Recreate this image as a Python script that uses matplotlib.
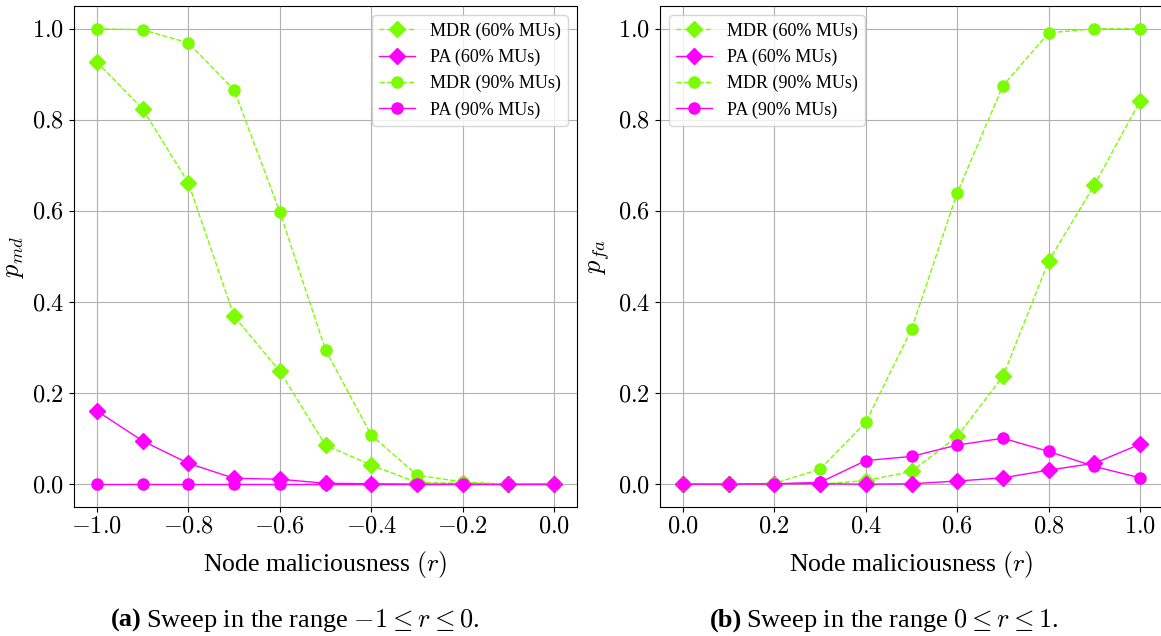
import matplotlib
matplotlib.use('Agg')
import matplotlib.pyplot as plt
from matplotlib.ticker import FuncFormatter

plt.rcParams['font.family'] = ['Liberation Serif', 'DejaVu Serif']
plt.rcParams['mathtext.fontset'] = 'cm'

# sweep (a): -1 <= r <= 0
r_neg = [-1.0, -0.9, -0.8, -0.7, -0.6, -0.5, -0.4, -0.3, -0.2, -0.1, 0.0]
mdr60_neg = [0.927, 0.824, 0.662, 0.369, 0.248, 0.086, 0.042, 0.004, 0.002, 0.0, 0.0]
pa60_neg = [0.161, 0.095, 0.046, 0.013, 0.011, 0.002, 0.001, 0.0, 0.0, 0.0, 0.0]
mdr90_neg = [1.0, 0.998, 0.969, 0.866, 0.598, 0.295, 0.108, 0.020, 0.005, 0.0, 0.0]
pa90_neg = [0.0, 0.0, 0.0, 0.0, 0.0, 0.0, 0.0, 0.0, 0.0, 0.0, 0.0]

# sweep (b): 0 <= r <= 1
r_pos = [0.0, 0.1, 0.2, 0.3, 0.4, 0.5, 0.6, 0.7, 0.8, 0.9, 1.0]
mdr60_pos = [0.0, 0.0, 0.001, 0.0, 0.008, 0.028, 0.105, 0.237, 0.490, 0.657, 0.842]
pa60_pos = [0.0, 0.0, 0.001, 0.001, 0.0, 0.001, 0.007, 0.014, 0.031, 0.046, 0.088]
mdr90_pos = [0.0, 0.0, 0.002, 0.033, 0.136, 0.340, 0.640, 0.875, 0.991, 1.0, 1.0]
pa90_pos = [0.0, 0.0, 0.001, 0.004, 0.052, 0.061, 0.086, 0.101, 0.072, 0.039, 0.014]

labels = ['MDR (60% MUs)', 'PA (60% MUs)', 'MDR (90% MUs)', 'PA (90% MUs)']
green = '#7cfc00'
magenta = '#ff00ff'

fig = plt.figure(figsize=(11.61, 6.36), dpi=100)
ax1 = fig.add_axes([74/1161, 1 - 507/636, 503/1161, 501/636])
ax2 = fig.add_axes([660/1161, 1 - 507/636, 503/1161, 501/636])

fmt = FuncFormatter(lambda v, p: '$%.1f$' % v)


def draw(ax, r, mdr60, pa60, mdr90, pa90, ylab, loc):
    ax.plot(r, mdr60, '--D', color=green, lw=1, ms=8, label=labels[0])
    ax.plot(r, pa60, '-D', color=magenta, lw=1, ms=8, label=labels[1])
    ax.plot(r, mdr90, '--o', color=green, lw=1, ms=8, label=labels[2])
    ax.plot(r, pa90, '-o', color=magenta, lw=1, ms=8, label=labels[3])
    ax.grid(True, color='#b0b0b0', lw=0.8)
    ax.set_axisbelow(True)
    ax.xaxis.set_major_formatter(fmt)
    ax.yaxis.set_major_formatter(fmt)
    ax.tick_params(labelsize=17.5)
    ax.set_xlabel('Node maliciousness $(r)$', fontsize=18.5, labelpad=8)
    ax.set_ylabel(ylab, fontsize=19)
    ax.legend(loc=loc, fontsize=13, framealpha=0.8)


draw(ax1, r_neg, mdr60_neg, pa60_neg, mdr90_neg, pa90_neg, '$p_{md}$', 'upper right')
draw(ax2, r_pos, mdr60_pos, pa60_pos, mdr90_pos, pa90_pos, '$p_{fa}$', 'upper left')

cy = 1 - 620/636
fig.text(142/1161, cy, '(a)', ha='right', va='center', fontsize=19, fontweight='bold')
fig.text(146/1161, cy, r'Sweep in the range $-1 \leq r \leq 0$.', ha='left', va='center', fontsize=19)
fig.text(742/1161, cy, '(b)', ha='right', va='center', fontsize=19, fontweight='bold')
fig.text(746/1161, cy, r'Sweep in the range $0 \leq r \leq 1$.', ha='left', va='center', fontsize=19)

fig.savefig('out.png', dpi=100)
